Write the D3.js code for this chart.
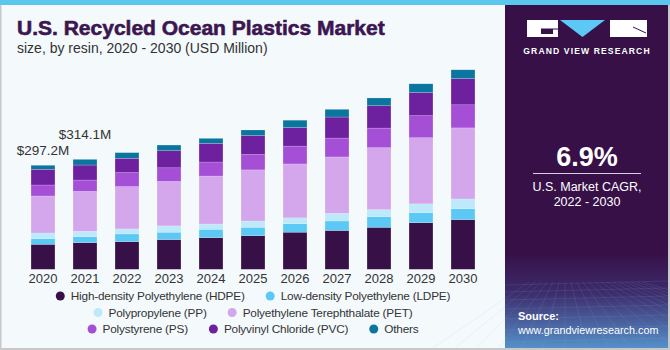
<!DOCTYPE html>
<html>
<head>
<meta charset="utf-8">
<script src="https://cdn.jsdelivr.net/npm/d3@7"></script>
<style>
  body { margin: 0; background: #fff; }
  svg { display: block; font-family: "Liberation Sans", Arial, sans-serif; }
</style>
</head>
<body>
<div id="chart"></div>
<script>
// data (USD Million)
const years = ["2020", "2021", "2022", "2023", "2024", "2025", "2026", "2027", "2028", "2029", "2030"];
const hdpe = [71.4, 76.2, 79, 85, 90.5, 96, 106, 111, 120, 133, 142];
const ldpe = [16.2, 17.1, 22, 21, 23.8, 24, 24, 27, 30.5, 29, 31];
const pp = [16.2, 15.2, 14.3, 18, 15.2, 18, 17, 22, 20, 25, 28];
const pet = [105.7, 114.1, 121, 127, 137, 146, 154, 161, 177, 189, 203];
const ps = [31.4, 32.4, 40, 39, 40, 44, 51, 54, 56, 63, 66];
const pvc = [44.8, 42.9, 41, 49, 53.3, 54, 53, 60, 64, 66, 75];
const others = [11.5, 16.2, 16, 16, 14.3, 16, 21, 22, 22, 25, 25];

const seriesNames = ["High-density Polyethylene (HDPE)", "Low-density Polyethylene (LDPE)",
    "Polypropylene (PP)", "Polyethylene Terephthalate (PET)",
    "Polystyrene (PS)", "Polyvinyl Chloride (PVC)", "Others"];
const seriesValues = [hdpe, ldpe, pp, pet, ps, pvc, others];
const colors = ["#361047", "#5bc8f5", "#bde9fa", "#d4a6ec", "#a54fd6", "#6e219e", "#0a76a0"];

const labelYears = ["2020", "2021"];
const labelTexts = ["$297.2M", "$314.1M"];

const W = 670, H = 350;

const svg = d3.select("#chart").append("svg")
    .attr("width", W)
    .attr("height", H);

// background + frame
svg.append("rect").attr("width", W).attr("height", H).attr("fill", "#f4f9fc");
svg.append("rect").attr("x", 0).attr("y", 0).attr("width", 1.5).attr("height", H).attr("fill", "#c8c8c8");
svg.append("rect").attr("x", 0).attr("y", H - 2).attr("width", W).attr("height", 2).attr("fill", "#c8c8c8");
svg.append("rect").attr("x", W - 2).attr("y", 0).attr("width", 2).attr("height", H).attr("fill", "#c8c8c8");

// right panel
const defs = svg.append("defs");
const grad = defs.append("linearGradient").attr("id", "panelGrad")
    .attr("x1", 0).attr("y1", 0).attr("x2", 0).attr("y2", 1);
grad.append("stop").attr("offset", "0%").attr("stop-color", "#361047");
grad.append("stop").attr("offset", "72%").attr("stop-color", "#361047");
grad.append("stop").attr("offset", "84%").attr("stop-color", "#3d2c6c");
grad.append("stop").attr("offset", "100%").attr("stop-color", "#5590c8");

const px = 505, pw = 163;
svg.append("rect").attr("x", px).attr("y", 5).attr("width", pw).attr("height", H - 7)
    .attr("fill", "url(#panelGrad)");

// faint perspective grid at bottom of panel
const grid = svg.append("g").attr("stroke", "#8fb4e0").attr("stroke-opacity", 0.22).attr("stroke-width", 0.6);
const gridRows = [285, 292, 300, 309, 319, 330, 342];
gridRows.forEach(gy => grid.append("line").attr("x1", px).attr("x2", px + pw).attr("y1", gy).attr("y2", gy - 4));
d3.range(-6, 14).forEach(i => {
    grid.append("line")
        .attr("x1", px + 60 + i * 6).attr("y1", 282)
        .attr("x2", px + 60 + i * 22).attr("y2", H - 2);
});

// top blue strip
svg.append("rect").attr("x", 0).attr("y", 0).attr("width", W).attr("height", 5).attr("fill", "#5bc6ee");

// logo
const logo = svg.append("g");
logo.append("rect").attr("x", 527).attr("y", 20).attr("width", 31).attr("height", 17).attr("fill", "#fff");
logo.append("path").attr("d", "M541,29 h12 v5 h-12 z").attr("fill", "#361047");
logo.append("path").attr("d", "M541,29 h17").attr("stroke", "#361047").attr("stroke-width", 1);
logo.append("path").attr("d", "M560,20 L605,20 L582.5,37 Z").attr("fill", "#5bc8f5");
logo.append("rect").attr("x", 610).attr("y", 20).attr("width", 37).attr("height", 17).attr("fill", "#fff");
logo.append("path").attr("d", "M633,27 L646,33").attr("stroke", "#361047").attr("stroke-width", 1);
logo.append("text").attr("x", 587).attr("y", 54).attr("text-anchor", "middle")
    .attr("fill", "#fff").attr("font-size", 8.6).attr("font-weight", "bold")
    .attr("letter-spacing", 1.1).text("GRAND VIEW RESEARCH");

// CAGR block
svg.append("text").attr("x", 587).attr("y", 166).attr("text-anchor", "middle")
    .attr("fill", "#fff").attr("font-size", 27).attr("font-weight", "bold").text("6.9%");
svg.append("line").attr("x1", 533).attr("x2", 641).attr("y1", 173.5).attr("y2", 173.5)
    .attr("stroke", "#d8cfe0").attr("stroke-width", 1);
svg.append("text").attr("x", 587).attr("y", 191).attr("text-anchor", "middle")
    .attr("fill", "#fff").attr("font-size", 12.5).text("U.S. Market CAGR,");
svg.append("text").attr("x", 587).attr("y", 206).attr("text-anchor", "middle")
    .attr("fill", "#fff").attr("font-size", 12.5).text("2022 - 2030");

// source
svg.append("text").attr("x", 518).attr("y", 320).attr("fill", "#fff")
    .attr("font-size", 11).attr("font-weight", "bold").text("Source:");
svg.append("text").attr("x", 518).attr("y", 334).attr("fill", "#fff")
    .attr("font-size", 10.8).text("www.grandviewresearch.com");

// titles
svg.append("text").attr("x", 17).attr("y", 35).attr("fill", "#3b1650")
    .attr("stroke", "#3b1650").attr("stroke-width", 0.6)
    .attr("font-size", 21).attr("font-weight", "bold").text("U.S. Recycled Ocean Plastics Market");
svg.append("text").attr("x", 17).attr("y", 53).attr("fill", "#333")
    .attr("font-size", 14).text("size, by resin, 2020 - 2030 (USD Million)");

// scales
const x = d3.scaleBand()
    .domain(years)
    .range([22, 484])
    .paddingInner(0.43)
    .paddingOuter(0.215);

const y = d3.scaleLinear()
    .domain([0, 600])
    .range([269.3, 269.3 - 600 * 0.35]);

const table = years.map((yr, i) => {
    const row = {year: yr};
    seriesNames.forEach((s, j) => row[s] = seriesValues[j][i]);
    return row;
});

const stack = d3.stack().keys(seriesNames)(table);

const bars = svg.append("g");
stack.forEach((layer, j) => {
    bars.selectAll(".seg" + j)
        .data(layer)
        .enter()
        .append("rect")
        .attr("class", "seg" + j)
        .attr("x", d => x(d.data.year))
        .attr("width", x.bandwidth())
        .attr("y", d => y(d[1]))
        .attr("height", d => y(d[0]) - y(d[1]))
        .attr("fill", colors[j])
        .attr("stroke", "#ffffff")
        .attr("stroke-opacity", 0.35)
        .attr("stroke-width", 0.5);
});

// value labels
const totals = table.map((r, i) => d3.sum(seriesValues, s => s[i]));
const labelOffsets = [10, 20];
labelYears.forEach((yr, k) => {
    const i = years.indexOf(yr);
    svg.append("text")
        .attr("x", x(yr) + x.bandwidth() / 2)
        .attr("y", y(totals[i]) - labelOffsets[k])
        .attr("text-anchor", "middle")
        .attr("fill", "#333")
        .attr("font-size", 13.5)
        .text(labelTexts[k]);
});

// x axis
const xAxis = d3.axisBottom(x).tickSize(0).tickPadding(4);
const gx = svg.append("g")
    .attr("transform", "translate(0,270)")
    .call(xAxis);
gx.select(".domain").remove();
gx.selectAll("text").attr("font-size", 13).attr("fill", "#333")
    .attr("font-family", "Liberation Sans, Arial, sans-serif");

// legend
const rows = [[0, 1], [2, 3], [4, 5, 6]];
const rowY = [296, 312.5, 329];
const legend = svg.append("g");
rows.forEach((row, r) => {
    const g = legend.append("g");
    let cx = 0;
    row.forEach(j => {
        g.append("circle").attr("cx", cx + 4.5).attr("cy", rowY[r]).attr("r", 4.5).attr("fill", colors[j]);
        const t = g.append("text").attr("x", cx + 15).attr("y", rowY[r] + 4.3)
            .attr("fill", "#333").attr("font-size", 11.8).attr("letter-spacing", -0.2)
            .text(seriesNames[j]);
        cx += 15 + t.node().getComputedTextLength() + 21;
    });
    const rowW = cx - 21;
    g.attr("transform", `translate(${253 - rowW / 2},0)`);
});
</script>
</body>
</html>
